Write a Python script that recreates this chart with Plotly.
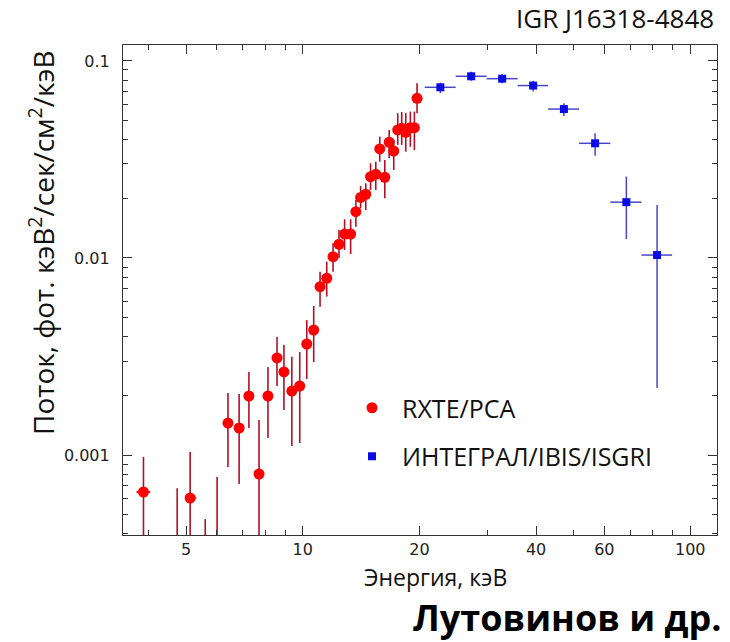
import plotly.graph_objects as go

# ---------------- data ----------------
# RXTE/PCA : energy (keV), flux, upper / lower ends of the flux error bars
rxte_e = [3.88, 4.74, 5.12, 5.60, 6.01, 6.41, 6.85, 7.26, 7.71, 8.13, 8.58, 8.94, 9.37,
          9.82, 10.24, 10.67, 11.08, 11.53, 11.97, 12.40, 12.82, 13.29, 13.71, 14.10,
          14.54, 14.96, 15.43, 15.80, 16.28, 16.71, 17.17, 17.58, 18.00, 18.44, 18.95,
          19.41, 19.72]
rxte_f = [6.49e-4, 2.5e-4, 6.05e-4, 2.0e-4, 3.0e-4, 1.453e-3, 1.371e-3, 1.993e-3, 8.01e-4,
          1.993e-3, 3.11e-3, 2.64e-3, 2.11e-3, 2.24e-3, 3.66e-3, 4.31e-3, 7.15e-3, 7.89e-3,
          1.015e-2, 1.174e-2, 1.323e-2, 1.323e-2, 1.718e-2, 2.03e-2, 2.106e-2, 2.586e-2,
          2.66e-2, 3.575e-2, 2.568e-2, 3.867e-2, 3.49e-2, 4.466e-2, 4.555e-2, 4.345e-2,
          4.587e-2, 4.587e-2, 6.465e-2]
rxte_hi = [9.77e-4, 6.79e-4, 1.035e-3, 4.73e-4, 7.73e-4, 2.065e-3, 2.04e-3, 2.64e-3, 1.507e-3,
           2.80e-3, 3.97e-3, 3.62e-3, 3.15e-3, 3.33e-3, 4.84e-3, 5.71e-3, 8.52e-3, 9.58e-3,
           1.188e-2, 1.387e-2, 1.572e-2, 1.572e-2, 1.97e-2, 2.32e-2, 2.393e-2, 3.025e-2,
           3.08e-2, 4.13e-2, 3.145e-2, 4.46e-2, 3.97e-2, 5.43e-2, 5.51e-2, 5.43e-2,
           5.53e-2, 5.53e-2, 7.70e-2]
rxte_lo = [1e-4, 1e-4, 1e-4, 1e-4, 1e-4, 8.69e-4, 7.13e-4, 1.371e-3, 1e-4,
           1.219e-3, 2.24e-3, 1.692e-3, 1.111e-3, 1.151e-3, 2.43e-3, 2.965e-3, 5.66e-3, 6.37e-3,
           8.52e-3, 1.0e-2, 1.098e-2, 1.048e-2, 1.442e-2, 1.788e-2, 1.752e-2, 2.214e-2,
           2.214e-2, 3.08e-2, 2.01e-2, 3.21e-2, 2.797e-2, 3.75e-2, 3.75e-2, 3.464e-2,
           3.67e-2, 3.53e-2, 5.43e-2]
# energy bin ends (only the first two bins are wider than the markers)
rxte_e_lo = [3.72, 4.74, 5.00] + [None] * 34
rxte_e_hi = [4.04, 4.74, 5.31] + [None] * 34

# INTEGRAL/IBIS/ISGRI
isgri_e = [22.65, 27.2, 32.7, 39.3, 47.2, 56.8, 68.4, 82.1]
isgri_e_lo = [20.63, 24.81, 29.81, 35.85, 42.97, 51.63, 62.16, 74.82]
isgri_e_hi = [24.81, 29.81, 35.85, 42.97, 51.63, 62.16, 74.82, 89.75]
isgri_f = [0.0735, 0.0836, 0.0813, 0.075, 0.057, 0.0382, 0.0192, 0.01035]
isgri_hi = [0.0776, 0.0882, 0.0856, 0.0794, 0.061, 0.043, 0.0259, 0.01858]
isgri_lo = [0.0686, 0.0794, 0.077, 0.0699, 0.0526, 0.033, 0.01249, 0.00219]

x_major = [5, 10, 20, 40, 60, 100]
x_major_text = ["5", "10", "20", "40", "60", "100"]
x_minor = [4, 6, 7, 8, 9, 30, 50, 70, 80, 90]
y_major = [0.001, 0.01, 0.1]
y_major_text = ["0.001", "0.01", "0.1"]
y_minor = [m * 10.0 ** d for d in (-4, -3, -2) for m in range(2, 10)]

# ---------------- derived error arrays ----------------
r_plus = [h - f for h, f in zip(rxte_hi, rxte_f)]
r_minus = [f - l for f, l in zip(rxte_f, rxte_lo)]
r_xp = [(h - e) if h is not None else 0 for h, e in zip(rxte_e_hi, rxte_e)]
r_xm = [(e - l) if l is not None else 0 for l, e in zip(rxte_e_lo, rxte_e)]
i_plus = [h - f for h, f in zip(isgri_hi, isgri_f)]
i_minus = [f - l for f, l in zip(isgri_f, isgri_lo)]
i_xp = [h - e for h, e in zip(isgri_e_hi, isgri_e)]
i_xm = [e - l for l, e in zip(isgri_e_lo, isgri_e)]

fig = go.Figure()
fig.add_trace(go.Scatter(
    x=rxte_e, y=rxte_f, mode="markers", name="RXTE/PCA", legendgroup="a",
    marker=dict(symbol="circle", size=11, color="#ff0000"),
    error_y=dict(type="data", symmetric=False, array=r_plus, arrayminus=r_minus,
                 color="#b01028", thickness=1.6, width=0),
    error_x=dict(type="data", symmetric=False, array=r_xp, arrayminus=r_xm,
                 color="#b01028", thickness=1.6, width=0),
))
fig.add_trace(go.Scatter(
    x=isgri_e, y=isgri_f, mode="markers", name="ИНТЕГРАЛ/IBIS/ISGRI", legendgroup="b",
    marker=dict(symbol="square", size=8, color="#0a0ae6"),
    error_y=dict(type="data", symmetric=False, array=i_plus, arrayminus=i_minus,
                 color="#4646c8", thickness=1.5, width=0),
    error_x=dict(type="data", symmetric=False, array=i_xp, arrayminus=i_xm,
                 color="#4646c8", thickness=1.5, width=0),
))

L, R, T, B = 123, 13, 45, 107
W, H = 730, 642
pw, ph = W - L - R, H - T - B


def px(p):
    return (p - L) / pw


def py(q):
    return (H - B - q) / ph


axis_common = dict(
    type="log", showgrid=False, zeroline=False, showline=True, linecolor="#333333",
    linewidth=1.2, mirror="ticks", ticks="inside", ticklen=9, tickwidth=1,
    tickcolor="#333333", tickmode="array",
    tickfont=dict(family="DejaVu Sans", size=16, color="#222222"),
)

fig.update_xaxes(
    **axis_common, range=[0.536, 2.069], tickvals=x_major, ticktext=x_major_text,
    minor=dict(tickmode="array", tickvals=x_minor, ticks="inside", ticklen=5,
               tickcolor="#333333", showgrid=False),
)
fig.update_yaxes(
    **axis_common, range=[-3.406, -0.919], tickvals=y_major, ticktext=y_major_text,
    ticklabelstandoff=9,
    minor=dict(tickmode="array", tickvals=y_minor, ticks="inside", ticklen=5,
               tickcolor="#333333", showgrid=False),
)

fig.update_layout(
    width=W, height=H, margin=dict(l=L, r=R, t=T, b=B, pad=0),
    paper_bgcolor="white", plot_bgcolor="white",
    font=dict(family="Open Sans", color="#111111"),
    showlegend=True,
    legend=dict(x=px(342), y=py(385), xanchor="left", yanchor="top",
                bgcolor="rgba(0,0,0,0)", font=dict(family="Open Sans", size=25, color="#111111"),
                tracegroupgap=13, itemwidth=50),
    annotations=[
        dict(text="IGR J16318-4848", x=px(716), y=py(18), xref="paper", yref="paper",
             xanchor="right", yanchor="middle", showarrow=False,
             font=dict(family="Open Sans", size=26, color="#111111")),
        dict(text="Энергия, кэВ", x=px(435), y=py(577), xref="paper", yref="paper",
             xanchor="center", yanchor="middle", showarrow=False,
             font=dict(family="Open Sans", size=23, color="#111111")),
        dict(text="<b>Лутовинов и др.</b>", x=px(723), y=py(617), xref="paper", yref="paper",
             xanchor="right", yanchor="middle", showarrow=False,
             font=dict(family="Open Sans", size=36, color="#000000")),
        dict(text="Поток, фот. кэВ<sup>2</sup>/сек/см<sup>2</sup>/кэВ", x=px(42), y=py(243),
             xref="paper", yref="paper", xanchor="center", yanchor="middle",
             textangle=-90, showarrow=False,
             font=dict(family="Open Sans", size=28, color="#111111")),
    ],
)

fig.write_html("out.html")
